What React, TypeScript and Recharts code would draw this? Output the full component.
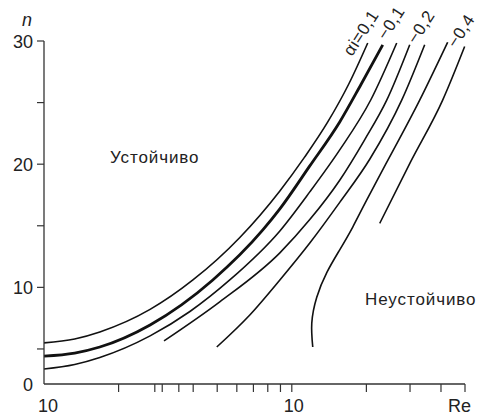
import React from 'react';
import { LineChart, Line, XAxis, YAxis, Customized } from 'recharts';

// ---- axis ticks ----
const reTicks = [10, 20, 28, 30, 35, 40, 50, 60, 70, 80, 90, 100, 200, 300, 400, 500];
const reTickLabels = ['10', '', '', '', '', '', '', '', '', '', '', '10', '', '', '', 'Re'];
const nTicks = [0, 5, 10, 15, 20, 25, 30];
const nTickLabels = ['0', '', '10', '', '20', '', '30'];

// ---- curves (Re, n) ----
const c1Re = [10, 13.3, 16.8, 26.8, 39.9, 61.7, 89.5, 112.8, 139.7, 169.8, 202.5];
const c1N = [5.49, 5.81, 6.38, 8.21, 10.6, 14.05, 17.83, 20.59, 23.43, 26.51, 29.84];

const c2Re = [10, 13.3, 16.8, 26.8, 48.0, 76.4, 89.5, 118.2, 156.1, 189.7, 232.8];
const c2N = [3.99, 4.42, 5.16, 6.95, 10.6, 14.66, 16.37, 19.86, 23.43, 26.43, 29.68];

const c3Re = [10, 13.3, 16.8, 26.8, 38.8, 56.2, 89.5, 118.2, 156.1, 208.2, 265.1];
const c3N = [2.14, 2.78, 3.78, 6.06, 8.04, 10.6, 14.58, 17.75, 21.16, 25.21, 29.84];

const c4Re = [30.5, 51.2, 89.5, 118.2, 156.1, 197.0, 241.6, 299.2];
const c4N = [5.65, 8.82, 12.8, 15.5, 18.7, 22.0, 25.2, 29.7];

const c5Re = [49.8, 67.7, 89.5, 118.2, 156.1, 206.3, 277.7, 343.8];
const c5N = [5.16, 7.76, 10.6, 13.6, 16.9, 20.4, 25.2, 29.7];

const c6Re = [121.5, 120.4, 126.1, 138.4, 156.1, 176.2, 200.7, 257.8, 328.2, 425.6];
const c6N = [5.16, 7.1, 9.2, 11.2, 13.05, 14.9, 17.1, 21.2, 25.2, 29.9];

const c7Re = [226.4, 301.9, 406.3, 498.4];
const c7N = [15.2, 20.2, 25.2, 29.55];

const curveLabels = ['\u03B1i=0,1', '\u22120,1', '\u22120,2', '\u22120,4'];
const regionLabels = ['Устойчиво', 'Неустойчиво'];

// ---- y axis is compressed below n = 5 (as in the original figure) ----
const N_BREAK = 5;
const LOW_RATIO = 0.569;
const toDisplay = (n: number) => (n <= N_BREAK ? n * LOW_RATIO : N_BREAK * LOW_RATIO + (n - N_BREAK));

const build = (re: number[], n: number[]) => re.map((r, i) => ({ re: r, d: toDisplay(n[i]) }));
const series = [
  build(c1Re, c1N),
  build(c2Re, c2N),
  build(c3Re, c3N),
  build(c4Re, c4N),
  build(c5Re, c5N),
  build(c6Re, c6N),
  build(c7Re, c7N),
];

const FONT = '"Liberation Sans", Arial, Helvetica, sans-serif';
const AXIS = '#333';
const TEXT = '#222';

function ReTick(props: any) {
  const { x, y, payload } = props;
  const idx = reTicks.indexOf(payload.value);
  const label = idx >= 0 ? reTickLabels[idx] : '';
  const isEnd = payload.value === reTicks[reTicks.length - 1];
  const isFirst = payload.value === reTicks[0];
  return (
    <g>
      {!isFirst && <line x1={x} y1={y - 8} x2={x} y2={y} stroke={AXIS} strokeWidth={1.2} />}
      {label && (
        <text
          x={isEnd ? x + 6 : x + (isFirst ? 4 : 2)}
          y={y + 20}
          textAnchor={isEnd ? 'end' : 'middle'}
          fontFamily={FONT}
          fontSize={18}
          fill={TEXT}
        >
          {label}
        </text>
      )}
    </g>
  );
}

function NTick(props: any) {
  const { x, y, index } = props;
  const label = nTickLabels[index] ?? '';
  const isZero = index === 0;
  return (
    <g>
      {!isZero && <line x1={x + 4} y1={y} x2={x + 11} y2={y} stroke={AXIS} strokeWidth={1.2} />}
      {label && (
        <text x={x} y={y + 6.5} textAnchor="end" fontFamily={FONT} fontSize={18} fill={TEXT}>
          {label}
        </text>
      )}
    </g>
  );
}

const labelPos = [
  [352, 57],
  [386, 41],
  [416, 45],
  [456, 49],
];

function Annotations() {
  return (
    <g fontFamily={FONT} fill={TEXT}>
      <text x={27} y={26} textAnchor="middle" fontStyle="italic" fontSize={18}>
        n
      </text>
      <text x={110} y={163} fontSize={17} letterSpacing={0.9}>
        {regionLabels[0]}
      </text>
      <text x={365} y={305} fontSize={17} letterSpacing={0.9}>
        {regionLabels[1]}
      </text>
      {curveLabels.map((t, i) => (
        <text
          key={i}
          x={labelPos[i][0]}
          y={labelPos[i][1]}
          fontSize={17}
          letterSpacing={0.5}
          transform={`rotate(-57 ${labelPos[i][0]} ${labelPos[i][1]})`}
        >
          {t}
        </text>
      ))}
    </g>
  );
}

export default function App() {
  return (
    <div style={{ position: 'absolute', left: 0, top: 0, width: 479, height: 416, background: '#fff' }}>
      <LineChart width={479} height={416} margin={{ top: 41, right: 14, bottom: 0, left: 0 }}>
        <XAxis
          dataKey="re"
          type="number"
          scale="log"
          domain={[10, 500]}
          ticks={reTicks}
          interval={0}
          tickLine={false}
          tickSize={8}
          tickMargin={0}
          tick={<ReTick />}
          axisLine={{ stroke: AXIS, strokeWidth: 1.3 }}
          height={32}
        />
        <YAxis
          type="number"
          domain={[0, toDisplay(30)]}
          ticks={nTicks.map(toDisplay)}
          interval={0}
          tickLine={false}
          tickSize={7}
          tickMargin={4}
          tick={<NTick />}
          axisLine={{ stroke: AXIS, strokeWidth: 1.3 }}
          width={44}
        />
        {series.map((data, i) => (
          <Line
            key={i}
            data={data}
            dataKey="d"
            type={i === 5 ? 'natural' : 'monotone'}
            stroke="#111"
            strokeWidth={i === 1 ? 2.8 : 1.6}
            dot={false}
            activeDot={false}
            isAnimationActive={false}
          />
        ))}
        <Customized component={Annotations} />
      </LineChart>
    </div>
  );
}
